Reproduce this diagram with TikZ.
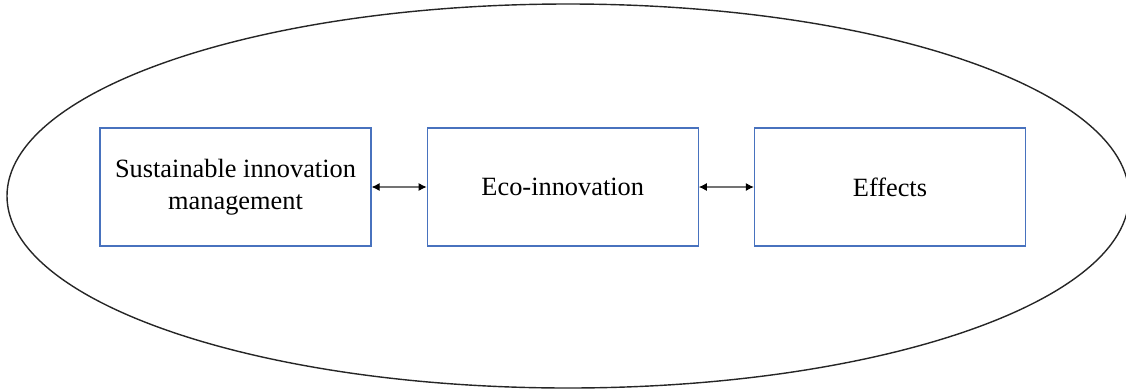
\documentclass[tikz,border=0pt]{standalone}
\usepackage{fontspec}
\setmainfont{Liberation Serif}
\usetikzlibrary{positioning,arrows.meta}
\definecolor{boxblue}{RGB}{72,114,190}

\begin{document}
\begin{tikzpicture}[
    block/.style={rectangle, draw=boxblue, line width=0.7pt,
                  minimum width=5.42cm, minimum height=2.36cm,
                  align=center, font=\fontsize{15}{18}\selectfont},
    link/.style={{Latex[length=4.5pt,width=4.5pt,black]}-{Latex[length=4.5pt,width=4.5pt,black]},
                 draw=black!55, line width=0.6pt},
    outline/.style={draw=black!85, line width=0.8pt},
]
\useasboundingbox (0,0) rectangle (22.52,7.78);
\def\gap{1.1cm}

% Enclosing ellipse
\draw[outline] (11.36,3.86) ellipse [x radius=11.22, y radius=3.84];

% Blocks, left to right
\node[block] (sim) at (4.71,4.04) {Sustainable innovation\\management};
\node[block, right=\gap of sim] (eco) {Eco-innovation};
\node[block, right=\gap of eco] (eff) {Effects};

% Two-way links
\draw[link] (sim) -- (eco);
\draw[link] (eco) -- (eff);

\end{tikzpicture}
\end{document}
